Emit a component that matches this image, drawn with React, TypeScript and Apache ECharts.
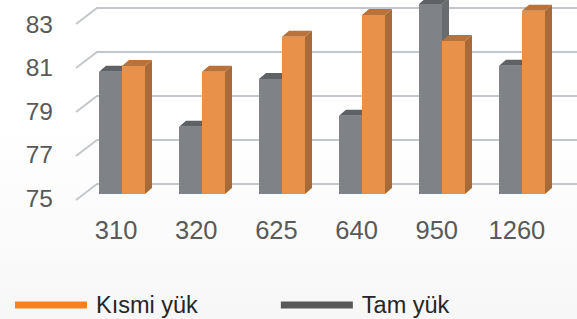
import React, { useEffect, useRef } from "react";
import * as echarts from "echarts";

const categories = ["310", "320", "625", "640", "950", "1260"];
const tamYuk = [80.56, 78.06, 80.23, 78.56, 83.64, 80.83];
const kismiYuk = [80.82, 80.56, 82.15, 83.14, 81.95, 83.33];
const yTicks = [75, 77, 79, 81, 83];

const Y_MIN = 75;
const Y_MAX = 83;
const BAR_W = 23;
const DX = 7;
const DY = -6;

function makeBarRender(side: "left" | "right", front: string, top: string, sideCol: string) {
  return (params: any, api: any) => {
    const xi = api.value(0);
    const v = api.value(1);
    const pTop = api.coord([xi, v]);
    const pBot = api.coord([xi, Y_MIN]);
    const c = pTop[0] - 0.5;
    const x0 = side === "left" ? c - BAR_W : c;
    const x1 = x0 + BAR_W;
    const yT = pTop[1];
    const yB = pBot[1];
    return {
      type: "group",
      children: [
        {
          type: "polygon",
          shape: { points: [[x1, yB], [x1 + DX, yB + DY], [x1 + DX, yT + DY], [x1, yT]] },
          style: { fill: sideCol },
        },
        {
          type: "polygon",
          shape: { points: [[x0, yT], [x0 + DX, yT + DY], [x1 + DX, yT + DY], [x1, yT]] },
          style: { fill: top },
        },
        {
          type: "rect",
          shape: { x: x0, y: yT, width: BAR_W, height: yB - yT },
          style: { fill: front },
        },
      ],
    };
  };
}

export default function App() {
  const ref = useRef<HTMLDivElement>(null);
  useEffect(() => {
    const chart = echarts.init(ref.current!, null, { renderer: "svg" });
    const option: any = {
      animation: false,
      backgroundColor: "transparent",
      textStyle: { fontFamily: "Liberation Sans, Arial, sans-serif" },
      grid: [
        { left: 82.5, width: 480, top: 18, height: 176 },
        { left: 76, width: 481, top: 24, height: 174 },
      ],
      xAxis: [
        { type: "category", data: categories, gridIndex: 0, show: false },
        {
          type: "category",
          data: categories,
          gridIndex: 1,
          axisLine: { show: false },
          axisTick: { show: false },
          axisLabel: { fontSize: 25.5, color: "#595959", margin: 19 },
        },
      ],
      yAxis: [
        { type: "value", min: Y_MIN, max: Y_MAX, gridIndex: 0, show: false },
        {
          type: "value",
          min: Y_MIN,
          max: Y_MAX,
          interval: 2,
          gridIndex: 1,
          axisLine: { show: false },
          axisTick: { show: false },
          splitLine: { show: false },
          axisLabel: { fontSize: 24.5, color: "#595959", margin: 23 },
        },
      ],
      legend: {
        left: 10,
        top: 288,
        icon: "rect",
        itemWidth: 72,
        itemHeight: 7,
        itemGap: 83,
        textStyle: { fontSize: 23.5, color: "#262626", padding: [0, 0, 8, 4] },
        data: [
          { name: "Kısmi yük", itemStyle: { color: "#F5821F" } },
          { name: "Tam yük", itemStyle: { color: "#595959" } },
        ],
      },
      series: [
        {
          type: "custom",
          name: "grid",
          xAxisIndex: 0,
          yAxisIndex: 0,
          z: 1,
          silent: true,
          data: yTicks.map((t) => [0, t]),
          renderItem: (params: any, api: any) => {
            const p = api.coord([0, api.value(1)]);
            const band = api.size([1, 0])[0];
            const left = p[0] - band / 2;
            const yF = p[1] + 6;
            const yBk = p[1] - 10;
            return {
              type: "polyline",
              shape: { points: [[left - 6.5, yF], [left + 14.5, yBk], [api.getWidth(), yBk]] },
              style: { stroke: "#c3c7cc", lineWidth: 2, fill: null },
            };
          },
        },
        {
          type: "custom",
          name: "Tam yük",
          xAxisIndex: 0,
          yAxisIndex: 0,
          z: 2,
          itemStyle: { color: "#595959" },
          data: tamYuk.map((v, i) => [i, v]),
          renderItem: makeBarRender("left", "#7f8286", "#5e6265", "#686c6f"),
        },
        {
          type: "custom",
          name: "Kısmi yük",
          xAxisIndex: 0,
          yAxisIndex: 0,
          z: 3,
          itemStyle: { color: "#F5821F" },
          data: kismiYuk.map((v, i) => [i, v]),
          renderItem: makeBarRender("right", "#e8914b", "#b8723a", "#a86a38"),
        },
        {
          type: "scatter",
          xAxisIndex: 1,
          yAxisIndex: 1,
          data: [],
          silent: true,
        },
      ],
    };
    chart.setOption(option);
    return () => chart.dispose();
  }, []);
  return (
    <div
      style={{
        position: "fixed",
        left: 0,
        top: 0,
        width: 577,
        height: 319,
        background: "linear-gradient(#ffffff, #ffffff 40%, #f7f7f7)",
      }}
    >
      <div ref={ref} style={{ width: 577, height: 319 }} />
    </div>
  );
}
